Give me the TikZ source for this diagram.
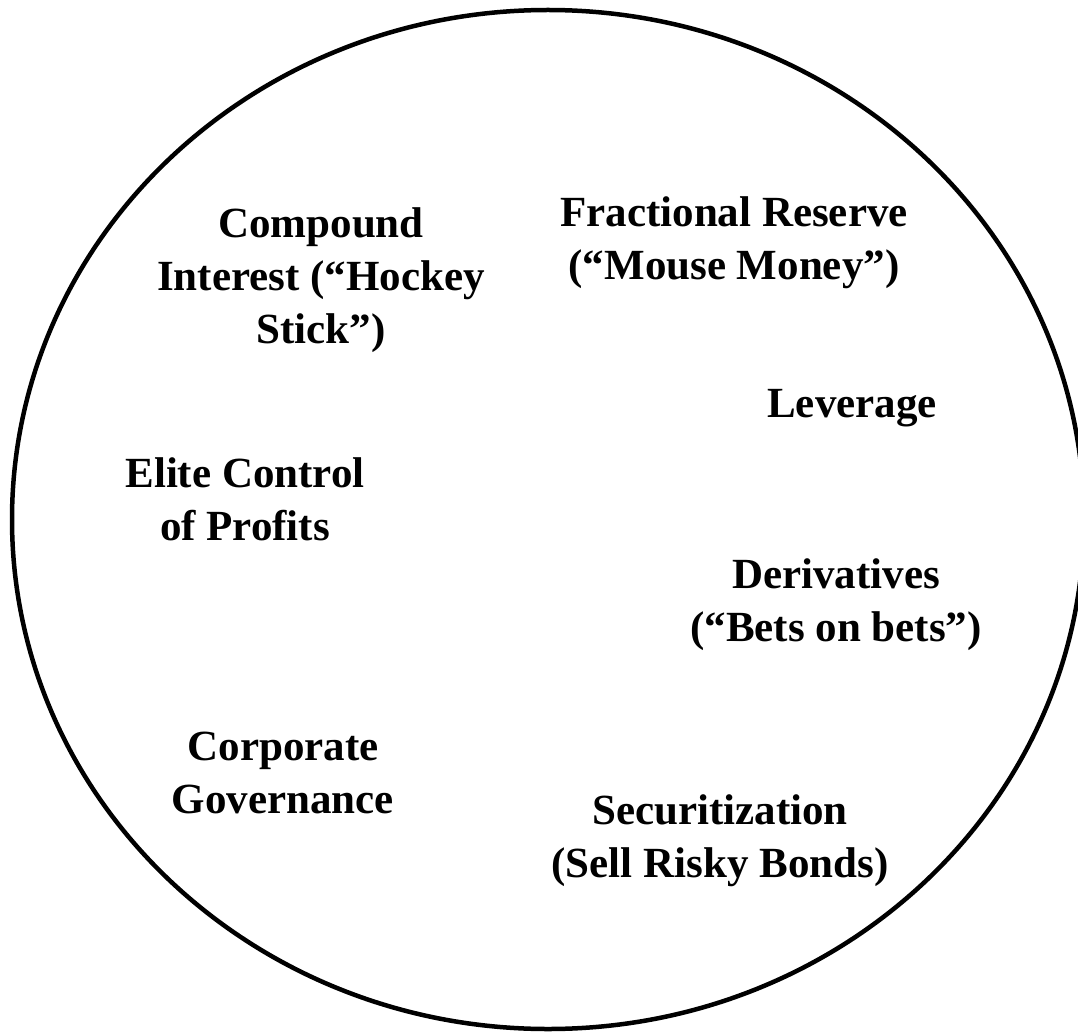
\documentclass[tikz,border=0pt]{standalone}
\usepackage{fontspec}
\setmainfont{Liberation Serif}
\begin{document}
\begin{tikzpicture}[x=1pt,y=-1pt,
  label/.style={align=center,font=\fontsize{43}{53}\selectfont\bfseries,inner sep=0pt}]
\useasboundingbox (0,0) rectangle (1078,1032);
% outer boundary
\draw[line width=4.5pt] (548,519.5) ellipse [x radius=536, y radius=509.5];
% topics
\node[label] (compound) at (321,280) {Compound\\Interest (“Hockey\\Stick”)};
\node[label] (reserve) at (734,243) {Fractional Reserve\\(“Mouse Money”)};
\node[label] (leverage) at (852,408) {Leverage};
\node[label] (elite) at (245,499) {Elite Control\\of Profits};
\node[label] (deriv) at (836,605) {Derivatives\\(“Bets on bets”)};
\node[label] (corp) at (283,773) {Corporate\\Governance};
\node[label] (secur) at (720,841) {Securitization\\(Sell Risky Bonds)};
\end{tikzpicture}
\end{document}
